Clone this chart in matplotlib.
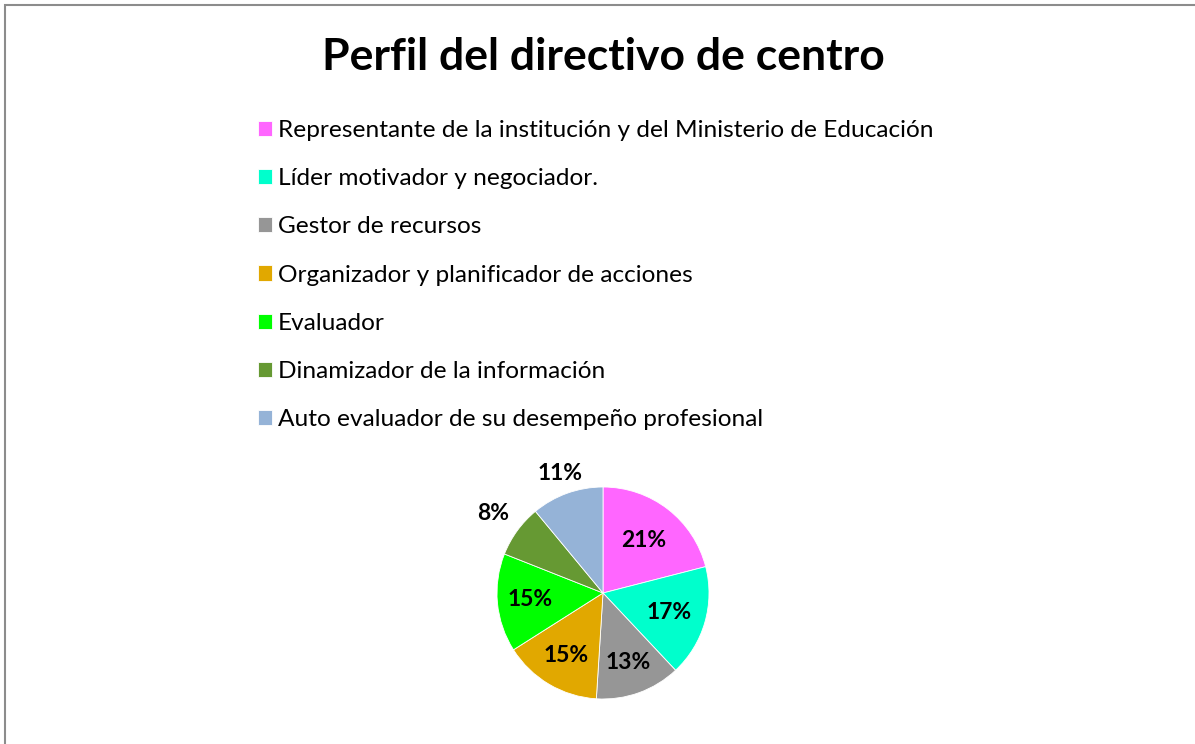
import matplotlib
matplotlib.use("Agg")
import matplotlib.pyplot as plt
from matplotlib.patches import Rectangle
import numpy as np

categories = [
    "Representante de la institución y del Ministerio de Educación",
    "Líder motivador y negociador.",
    "Gestor de recursos",
    "Organizador y planificador de acciones",
    "Evaluador",
    "Dinamizador de la información",
    "Auto evaluador de su desempeño profesional",
]
values = [21, 17, 13, 15, 15, 8, 11]
colors = ["#FF66FF", "#00FFCC", "#969696", "#E1A800", "#00FF00", "#669933", "#95B3D7"]
label_dist = [0.63, 0.65, 0.70, 0.69, 0.69, 1.28, 1.20]

plt.rcParams['font.family'] = ['Lato', 'DejaVu Sans']

W, H = 1195, 744
fig = plt.figure(figsize=(W / 100, H / 100), dpi=100)

# border (top & left visible)
fig.add_artist(Rectangle((5 / W, -0.05), 1.1, (H - 5) / H + 0.05, transform=fig.transFigure,
                         fill=False, edgecolor="#8C8C8C", linewidth=1.5))

fig.text(603 / W, 1 - 57 / H, "Perfil del directivo de centro", ha="center", va="center",
         fontsize=32, fontweight="bold")

R = 106
cx, cy = 603, 593
ax = fig.add_axes([(cx - R) / W, 1 - (cy + R) / H, 2 * R / W, 2 * R / H])
wedges, texts = ax.pie(values, colors=colors, startangle=90, counterclock=False,
                       radius=1.0, wedgeprops=dict(linewidth=0.6, edgecolor="white"))
ax.set_xlim(-1, 1)
ax.set_ylim(-1, 1)
ax.set_aspect("equal")
ax.axis("off")

total = sum(values)
for w, v, d in zip(wedges, values, label_dist):
    ang = np.deg2rad((w.theta1 + w.theta2) / 2)
    ax.text(d * np.cos(ang), d * np.sin(ang), f"{round(100 * v / total)}%", ha="center",
            va="center", fontsize=16.5, fontweight="bold", clip_on=False)

leg = fig.legend(wedges, categories, loc="upper left", bbox_to_anchor=(248 / W, 1 - 110 / H),
                 frameon=False, fontsize=17.6, handlelength=0.58, handleheight=0.58,
                 handletextpad=0.25, labelspacing=1.115, borderaxespad=0)

fig.savefig("out.png", dpi=100)
